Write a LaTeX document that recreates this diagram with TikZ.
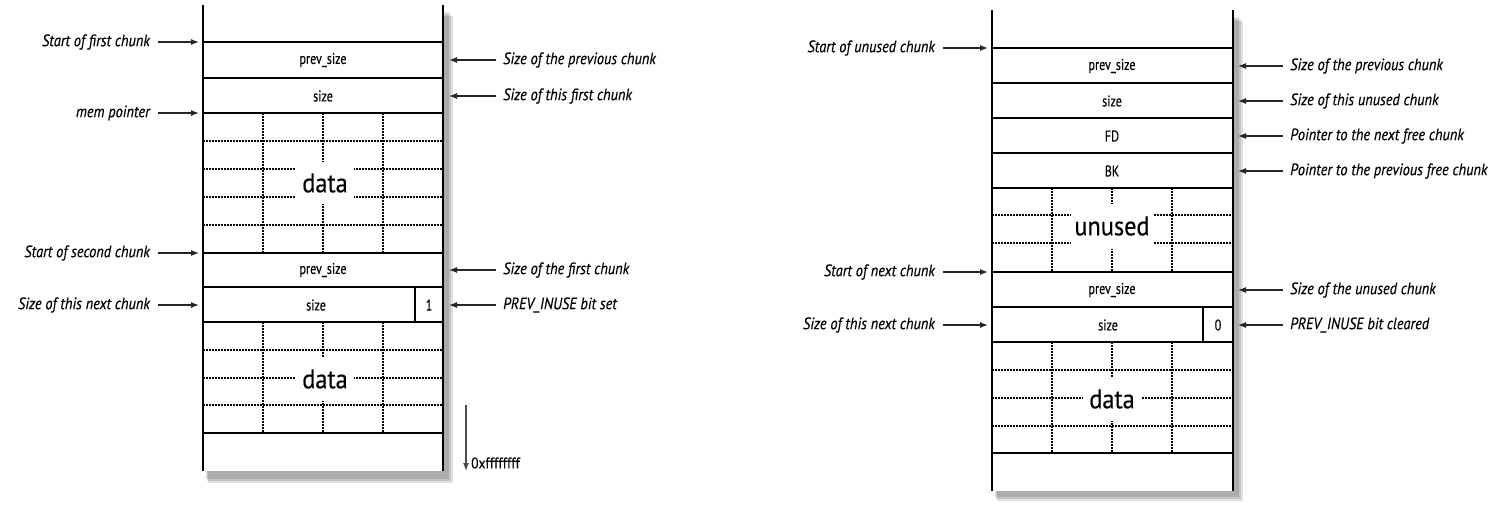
\documentclass[tikz,border=0pt]{standalone}
\usepackage{fontspec}
\newfontfamily\lblfont[FakeStretch=0.87,FakeBold=0.3]{PT Sans}
\newfontfamily\cellfont[FakeStretch=0.78,FakeBold=0.2]{PT Sans}
\newfontfamily\bigfont[FakeStretch=0.9,FakeBold=0.3]{PT Sans}
\newfontfamily\addrfont[FakeStretch=0.87,FakeBold=0.2]{PT Sans}
\usetikzlibrary{arrows.meta}
\tikzset{
  lbl/.style={font=\lblfont\itshape\fontsize{16.5}{18}\selectfont, inner ysep=2pt},
  lblL/.style={lbl, anchor=east, inner xsep=8pt},
  lblR/.style={lbl, anchor=west, inner xsep=7pt},
  cell/.style={font=\cellfont\fontsize{15.5}{17}\selectfont, inner sep=0pt},
  big/.style={font=\bigfont\fontsize{27}{29}\selectfont, fill=white, inner sep=0pt, minimum width=58pt, minimum height=42pt},
  wall/.style={line width=2pt},
  sep/.style={line width=2pt},
  grid/.style={line width=1.5pt, dash pattern=on 1.5pt off 1.5pt},
  arr/.style={-{Latex[length=8pt,width=6pt]}, line width=1.2pt, black!85},
  shade/.style={fill=black, opacity=0.12},
}
\begin{document}
\begin{tikzpicture}[x=1pt,y=-1pt]
\useasboundingbox[fill=white] (0,0) rectangle (1502,514);

% ---------- LEFT DIAGRAM ----------
\fill[shade] (206,12) rectangle (449,479);
\fill[shade] (207,14) rectangle (451,481);
\fill[shade] (208,16) rectangle (453,483);
\fill[white] (203,5) rectangle (443,471);
% grids
\foreach \y in {141,169,197,225} \draw[grid] (203,\y) -- (443,\y);
\foreach \x in {263,323,383} \draw[grid] (\x,113) -- (\x,253);
\foreach \y in {350,378,405} \draw[grid] (203,\y) -- (443,\y);
\foreach \x in {263,323,383} \draw[grid] (\x,322) -- (\x,433);
% separators
\foreach \y in {42,78,113,253,287,322,433} \draw[sep] (203,\y) -- (443,\y);
\draw[sep] (415,287) -- (415,322);
\draw[wall] (203,5) -- (203,471);
\draw[wall] (443,5) -- (443,471);
% cell labels
\node[cell] (Lps1) at (323,60) {prev\_size};
\node[cell] (Lsz1) at (323,96) {size};
\node[big] (Ld1) at (325,183) {data};
\node[cell] (Lps2) at (323,270) {prev\_size};
\node[cell] (Lsz2) at (316,305) {size};
\node[cell] (Lbit) at (429,305) {1};
\node[big, minimum height=44pt] (Ld2) at (325,379) {data};
% left labels
\node[lblL] (a1) at (158,42) {Start of first chunk};
\node[lblL] (a2) at (158,113) {mem pointer};
\node[lblL] (a3) at (158,253) {Start of second chunk};
\node[lblL] (a4) at (158,305) {Size of this next chunk};
\coordinate (A1) at (199,42);
\coordinate (A2) at (199,113);
\coordinate (A3) at (199,253);
\coordinate (A4) at (199,305);
\foreach \n in {1,2,3,4} \draw[arr] (a\n.east) -- (A\n);
% right labels
\node[lblR] (b1) at (496,60) {Size of the previous chunk};
\node[lblR] (b2) at (496,96) {Size of this first chunk};
\node[lblR] (b3) at (496,270) {Size of the first chunk};
\node[lblR] (b4) at (496,305) {PREV\_INUSE bit set};
\coordinate (B1) at (449,60);
\coordinate (B2) at (449,96);
\coordinate (B3) at (449,270);
\coordinate (B4) at (449,305);
\foreach \n in {1,2,3,4} \draw[arr] (b\n.west) -- (B\n);
% address arrow
\coordinate (ms) at (466,405);
\coordinate (me) at (466,471);
\draw[arr, black!70] (ms) -- (me);
\node[font=\addrfont\fontsize{15.5}{17}\selectfont, inner sep=0pt, anchor=west] (mx) at (471,463) {0xffffffff};

% ---------- RIGHT DIAGRAM ----------
\fill[shade] (995,17) rectangle (1239,497);
\fill[shade] (996,19) rectangle (1241,499);
\fill[shade] (997,21) rectangle (1243,501);
\fill[white] (992,10) rectangle (1233,491);
\foreach \y in {215,243} \draw[grid] (992,\y) -- (1233,\y);
\foreach \x in {1052,1112,1172} \draw[grid] (\x,188) -- (\x,272);
\foreach \y in {370,398,426} \draw[grid] (992,\y) -- (1233,\y);
\foreach \x in {1052,1112,1172} \draw[grid] (\x,342) -- (\x,453);
\foreach \y in {48,83,118,153,188,272,307,342,453} \draw[sep] (992,\y) -- (1233,\y);
\draw[sep] (1203,307) -- (1203,342);
\draw[wall] (992,10) -- (992,491);
\draw[wall] (1233,10) -- (1233,491);
\node[cell] (Rps1) at (1112,66) {prev\_size};
\node[cell] (Rsz1) at (1112,101) {size};
\node[cell] (Rfd) at (1112,136) {FD};
\node[cell] (Rbk) at (1112,171) {BK};
\node[big, minimum width=83pt, minimum height=45pt] (Run) at (1112,226) {unused};
\node[cell] (Rps2) at (1112,290) {prev\_size};
\node[cell] (Rsz2) at (1108,325) {size};
\node[cell] (Rbit) at (1218,325) {0};
\node[big, minimum height=44pt] (Rd) at (1112,399) {data};
% left labels
\node[lblL] (c1) at (943,48) {Start of unused chunk};
\node[lblL] (c2) at (943,272) {Start of next chunk};
\node[lblL] (c3) at (943,325) {Size of this next chunk};
\coordinate (C1) at (988,48);
\coordinate (C2) at (988,272);
\coordinate (C3) at (988,325);
\foreach \n in {1,2,3} \draw[arr] (c\n.east) -- (C\n);
% right labels
\node[lblR] (d1) at (1283,66) {Size of the previous chunk};
\node[lblR] (d2) at (1283,101) {Size of this unused chunk};
\node[lblR] (d3) at (1283,136) {Pointer to the next free chunk};
\node[lblR] (d4) at (1283,171) {Pointer to the previous free chunk};
\node[lblR] (d5) at (1283,290) {Size of the unused chunk};
\node[lblR] (d6) at (1283,325) {PREV\_INUSE bit cleared};
\coordinate (D1) at (1238,66);
\coordinate (D2) at (1238,101);
\coordinate (D3) at (1238,136);
\coordinate (D4) at (1238,171);
\coordinate (D5) at (1238,290);
\coordinate (D6) at (1238,325);
\foreach \n in {1,...,6} \draw[arr] (d\n.west) -- (D\n);
\end{tikzpicture}
\end{document}
